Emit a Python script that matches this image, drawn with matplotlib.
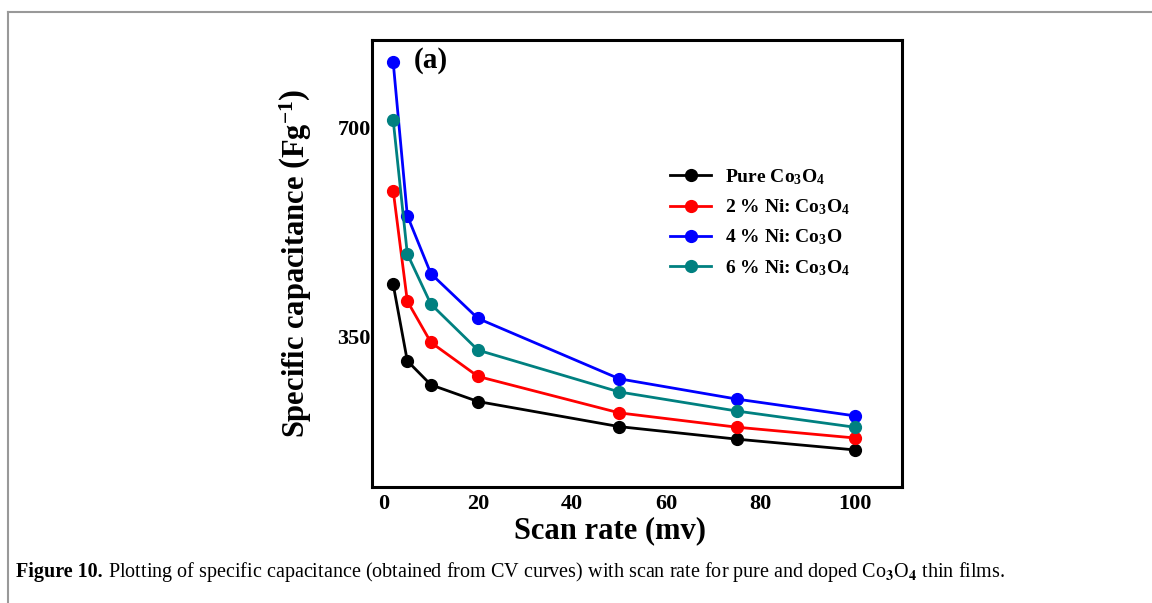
import numpy as np
import matplotlib
matplotlib.use('Agg')
import matplotlib.pyplot as plt
from matplotlib.lines import Line2D

plt.rcParams['font.family'] = 'Liberation Serif'
plt.rcParams['font.weight'] = 'bold'
plt.rcParams['mathtext.fontset'] = 'custom'
plt.rcParams['mathtext.rm'] = 'Liberation Serif:bold'
plt.rcParams['mathtext.it'] = 'Liberation Serif:bold'
plt.rcParams['mathtext.bf'] = 'Liberation Serif:bold'
plt.rcParams['mathtext.default'] = 'rm'

# scan rates (mV/s)
scan_rate = [2, 5, 10, 20, 50, 75, 100]

# specific capacitance (F/g)
pure = [438, 310, 270, 242, 200, 179, 161]
ni2 = [595, 410, 341, 284, 223, 199, 181]
ni4 = [810, 553, 456, 381, 280, 246, 218]
ni6 = [713, 489, 405, 328, 258, 226, 199]

labels = [r'Pure Co$_3$O$_4$', r'2 % Ni: Co$_3$O$_4$',
          r'4 % Ni: Co$_3$O', r'6 % Ni: Co$_3$O$_4$']
colors = ['black', 'red', 'blue', '#008080']

fig = plt.figure(figsize=(11.52, 6.03), dpi=100)
ax = fig.add_axes([0.3229, 0.1924, 0.4601, 0.7413])

for y, lab, c in zip([pure, ni2, ni4, ni6], labels, colors):
    ax.plot(scan_rate, y, '-o', color=c, lw=2, ms=8.5, label=lab)

ax.set_xlim(-2.5, 110)
ax.set_ylim(99, 847)
ax.set_xticks([0, 20, 40, 60, 80, 100])
ax.set_yticks([350, 700])
ax.tick_params(length=0, labelsize=16, pad=5)
ax.tick_params(axis='y', pad=1)
for s in ax.spines.values():
    s.set_linewidth(2.2)

ax.set_xlabel('Scan rate (mv)', fontsize=22, fontweight='bold')
ax.xaxis.set_label_coords(0.449, -0.065)
ax.set_ylabel(r'Specific capacitance $\left(\mathrm{Fg^{-1}}\right)$', fontsize=22, fontweight='bold')
ax.yaxis.set_label_coords(-0.11, 0.5)

ax.text(0.078, 0.955, '(a)', transform=ax.transAxes, fontsize=21, fontweight='bold', va='center')

leg = ax.legend(loc='upper left', bbox_to_anchor=(0.53, 0.755), frameon=False,
                fontsize=14, handlelength=2.1, handletextpad=0.7, labelspacing=0.55)

# gray frame around the figure panel
fig.add_artist(Line2D([8 / 1152, 1], [1 - 12 / 603, 1 - 12 / 603], color='#999999', lw=1.5))
fig.add_artist(Line2D([8 / 1152, 8 / 1152], [0, 1 - 12 / 603], color='#999999', lw=1.5))

cap1 = fig.text(16 / 1152, 1 - 572 / 603, 'Figure 10.', fontsize=14.5, fontweight='bold', va='center')
fig.canvas.draw()
bb = cap1.get_window_extent()
fig.text((bb.x1 + 5) / 1152, 1 - 572 / 603,
         r'Plotting of specific capacitance (obtained from CV curves) with scan rate for pure and doped Co$_3$O$_4$ thin films.',
         fontsize=14.5, fontweight='normal', va='center', math_fontfamily='stix')

fig.savefig('out.png', dpi=100)
